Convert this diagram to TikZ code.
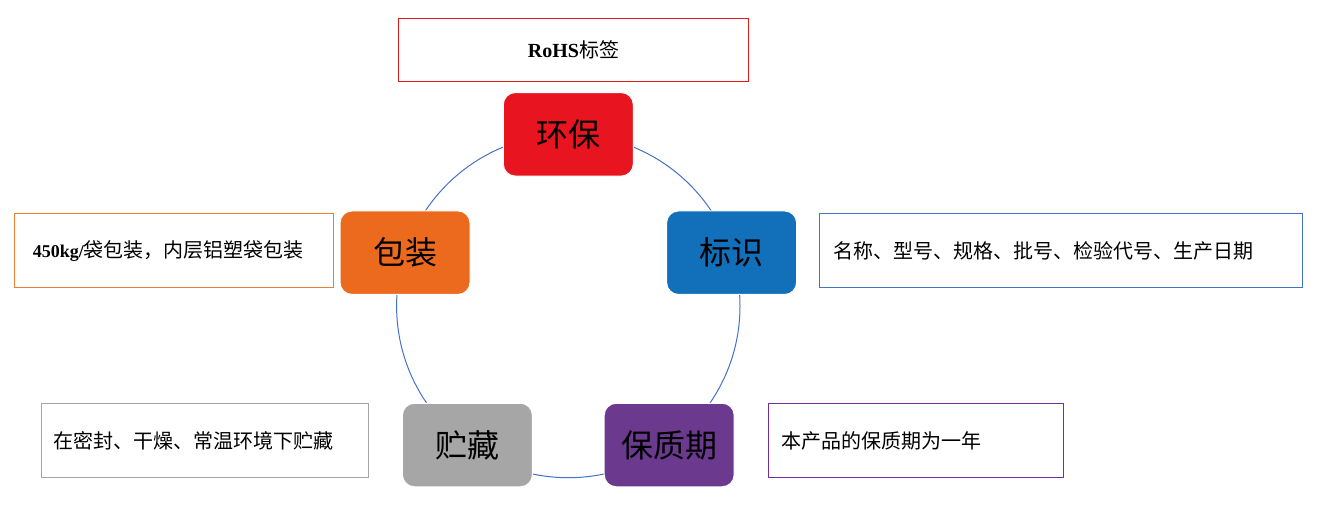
\documentclass[tikz,border=0pt]{standalone}
\usepackage{fontspec}
\setmainfont{Liberation Serif}
\newfontfamily\cjk{Noto Sans CJK SC}
\definecolor{cred}{HTML}{E8141F}
\definecolor{corange}{HTML}{EB6A1E}
\definecolor{cblue}{HTML}{1170B9}
\definecolor{cpurple}{HTML}{6B3A8E}
\definecolor{cgray}{HTML}{A6A6A6}
\definecolor{lred}{HTML}{E21A1A}
\definecolor{lorange}{HTML}{ED7D31}
\definecolor{lblue}{HTML}{4472C4}
\definecolor{lpurple}{HTML}{7030A0}
\definecolor{lgray}{HTML}{A5A5A5}
\begin{document}
\begin{tikzpicture}[x=1pt,y=-1pt,
  hub/.style={draw=white, line width=1pt, rounded corners=12pt, minimum width=130pt,
    minimum height=83.5pt, inner sep=0pt, text=black,
    font=\fontsize{32}{38}\selectfont\cjk},
  note/.style={draw, line width=1pt, minimum height=74pt, inner ysep=0pt, align=left,
    anchor=north west, font=\fontsize{20}{24}\selectfont\cjk},
  ring/.style={draw=lblue, line width=1pt}
]
\useasboundingbox[fill=white] (0,0) rectangle (1318,507);
\coordinate (o) at (568.3,306);
\draw[ring] (o) circle[radius=171.7pt];

\node[hub, fill=cred]    (hb) at (568.3,134.3) {环保};
\node[hub, fill=cblue]   (bs) at (731.6,252.7) {标识};
\node[hub, fill=cpurple] (bzq) at (669.2,445) {保质期};
\node[hub, fill=cgray]   (zc) at (467.4,445) {贮藏};
\node[hub, fill=corange] (bz) at (405,252.7) {包装};

\node[draw=lred, line width=1pt, minimum width=349.4pt, minimum height=62.7pt,
  inner sep=0pt, anchor=north west, font=\fontsize{20}{24}\selectfont]
  (rohs) at (398.3,18.3) {\textbf{RoHS}{\cjk 标签}};

\node[note, draw=lorange, text width=282.4pt, inner xsep=18pt] (nbz) at (14.3,213.3)
  {{\rmfamily\bfseries\fontsize{18}{24}\selectfont 450kg/}袋包装，内层铝塑袋包装};
\node[note, draw=lblue, text width=455pt, inner xsep=14pt] (nbs) at (819,213.3)
  {名称、型号、规格、批号、检验代号、生产日期};
\node[note, draw=lgray, text width=302.4pt, inner xsep=12.3pt] (nzc) at (41,403.3)
  {在密封、干燥、常温环境下贮藏};
\node[note, draw=lpurple, text width=269.6pt, inner xsep=12.7pt] (nbzq) at (768.3,403.3)
  {本产品的保质期为一年};
\end{tikzpicture}
\end{document}
